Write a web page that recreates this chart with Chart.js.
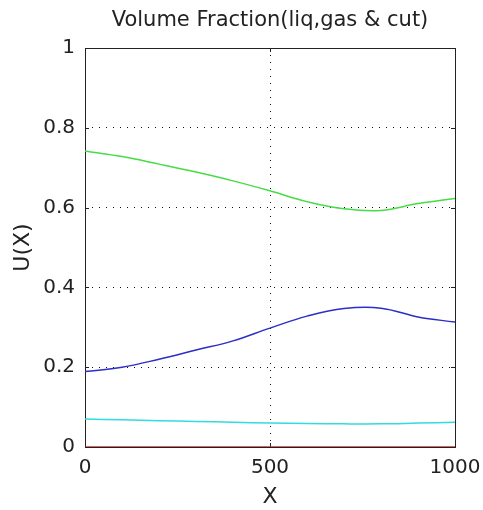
<!DOCTYPE html>
<html>
<head>
<meta charset="utf-8">
<title>Volume Fraction</title>
<script src="https://cdn.jsdelivr.net/npm/chart.js@4"></script>
<style>
  html, body { margin: 0; padding: 0; background: #fff; }
  #wrap { width: 483px; height: 510px; }
</style>
</head>
<body>
<div id="wrap"><canvas id="plot" width="483" height="510"></canvas></div>
<script>
// sample positions along X
const xValues = [0, 100, 200, 300, 400, 500, 600, 700, 800, 900, 1000];

// volume fractions at each X
const liqU = [0.742, 0.728, 0.709, 0.689, 0.667, 0.642, 0.615, 0.597, 0.593, 0.610, 0.623];
const gasU = [0.189, 0.200, 0.220, 0.243, 0.266, 0.298, 0.328, 0.347, 0.348, 0.326, 0.313];
const cutU = [0.070, 0.068, 0.066, 0.064, 0.062, 0.060, 0.059, 0.058, 0.058, 0.060, 0.062];
const baseU = [0, 0, 0, 0, 0, 0, 0, 0, 0, 0, 0];

const xTicks = [0, 500, 1000];
const yTicks = [0, 0.2, 0.4, 0.6, 0.8, 1];

const FONT = 'DejaVu Sans, sans-serif';

function series(values, color) {
    return {
        data: xValues.map((x, i) => ({ x: x, y: values[i] })),
        borderColor: color,
        borderWidth: 1.5,
        pointRadius: 0,
        tension: 0.4,
        fill: false
    };
}

// box around the axes plus inward tick marks on all four sides
const boxPlugin = {
    id: 'box',
    beforeDatasetsDraw(chart) {
        const { ctx, chartArea: a, scales } = chart;
        ctx.save();
        ctx.strokeStyle = '#222';
        ctx.lineWidth = 1;
        ctx.strokeRect(a.left + 0.5, a.top + 0.5, a.right - a.left, a.bottom - a.top);
        ctx.beginPath();
        xTicks.forEach(v => {
            const px = Math.round(scales.x.getPixelForValue(v)) + 0.5;
            ctx.moveTo(px, a.bottom); ctx.lineTo(px, a.bottom - 4);
            ctx.moveTo(px, a.top); ctx.lineTo(px, a.top + 4);
        });
        yTicks.forEach(v => {
            const py = Math.round(scales.y.getPixelForValue(v)) + 0.5;
            ctx.moveTo(a.left, py); ctx.lineTo(a.left + 4, py);
            ctx.moveTo(a.right, py); ctx.lineTo(a.right - 4, py);
        });
        ctx.stroke();
        ctx.restore();
    }
};

// dotted grid only on interior ticks
const gridColor = ctx => {
    const v = ctx.tick ? ctx.tick.value : null;
    const ends = ctx.scale.axis === 'x' ? [0, 1000] : [0, 1];
    return ends.includes(v) ? 'rgba(0,0,0,0)' : '#111';
};

const chart = new Chart(document.getElementById('plot').getContext('2d'), {
    type: 'line',
    data: {
        datasets: [
            series(liqU, 'rgb(70,220,70)'),
            series(gasU, 'rgb(45,45,200)'),
            series(cutU, 'rgb(50,220,220)'),
            series(baseU, 'rgb(205,45,45)')
        ]
    },
    plugins: [boxPlugin],
    options: {
        responsive: false,
        animation: false,
        events: [],
        layout: { padding: { left: 0, right: 28, top: 0, bottom: 0 } },
        plugins: {
            legend: { display: false },
            tooltip: { enabled: false },
            title: {
                display: true,
                fullSize: false,
                text: 'Volume Fraction(liq,gas & cut)',
                color: '#222',
                font: { family: FONT, size: 21, weight: 'normal' },
                padding: { top: 8, bottom: 14.8 }
            }
        },
        scales: {
            x: {
                type: 'linear',
                min: 0,
                max: 1000,
                afterBuildTicks: s => { s.ticks = xTicks.map(v => ({ value: v })); },
                afterFit: s => { s.height = 63; s.paddingLeft = 0; s.paddingRight = 0; },
                ticks: {
                    color: '#222',
                    font: { family: FONT, size: 20 },
                    padding: 9,
                    callback: v => String(v)
                },
                grid: { color: gridColor, drawTicks: false, lineWidth: 1 },
                border: { display: false, dash: [1, 6] },
                title: {
                    display: true,
                    text: 'X',
                    color: '#222',
                    font: { family: FONT, size: 22 },
                    padding: { top: 0, bottom: 0 }
                }
            },
            y: {
                min: 0,
                max: 1,
                afterBuildTicks: s => { s.ticks = yTicks.map(v => ({ value: v })); },
                afterFit: s => { s.width = 85; s.paddingTop = 0; s.paddingBottom = 0; },
                ticks: {
                    color: '#222',
                    font: { family: FONT, size: 20 },
                    padding: 10,
                    callback: v => String(v)
                },
                grid: { color: gridColor, drawTicks: false, lineWidth: 1 },
                border: { display: false, dash: [1, 6] },
                title: {
                    display: true,
                    text: 'U(X)',
                    color: '#222',
                    font: { family: FONT, size: 22 },
                    padding: { top: 10, bottom: 0 }
                }
            }
        }
    }
});
</script>
</body>
</html>
